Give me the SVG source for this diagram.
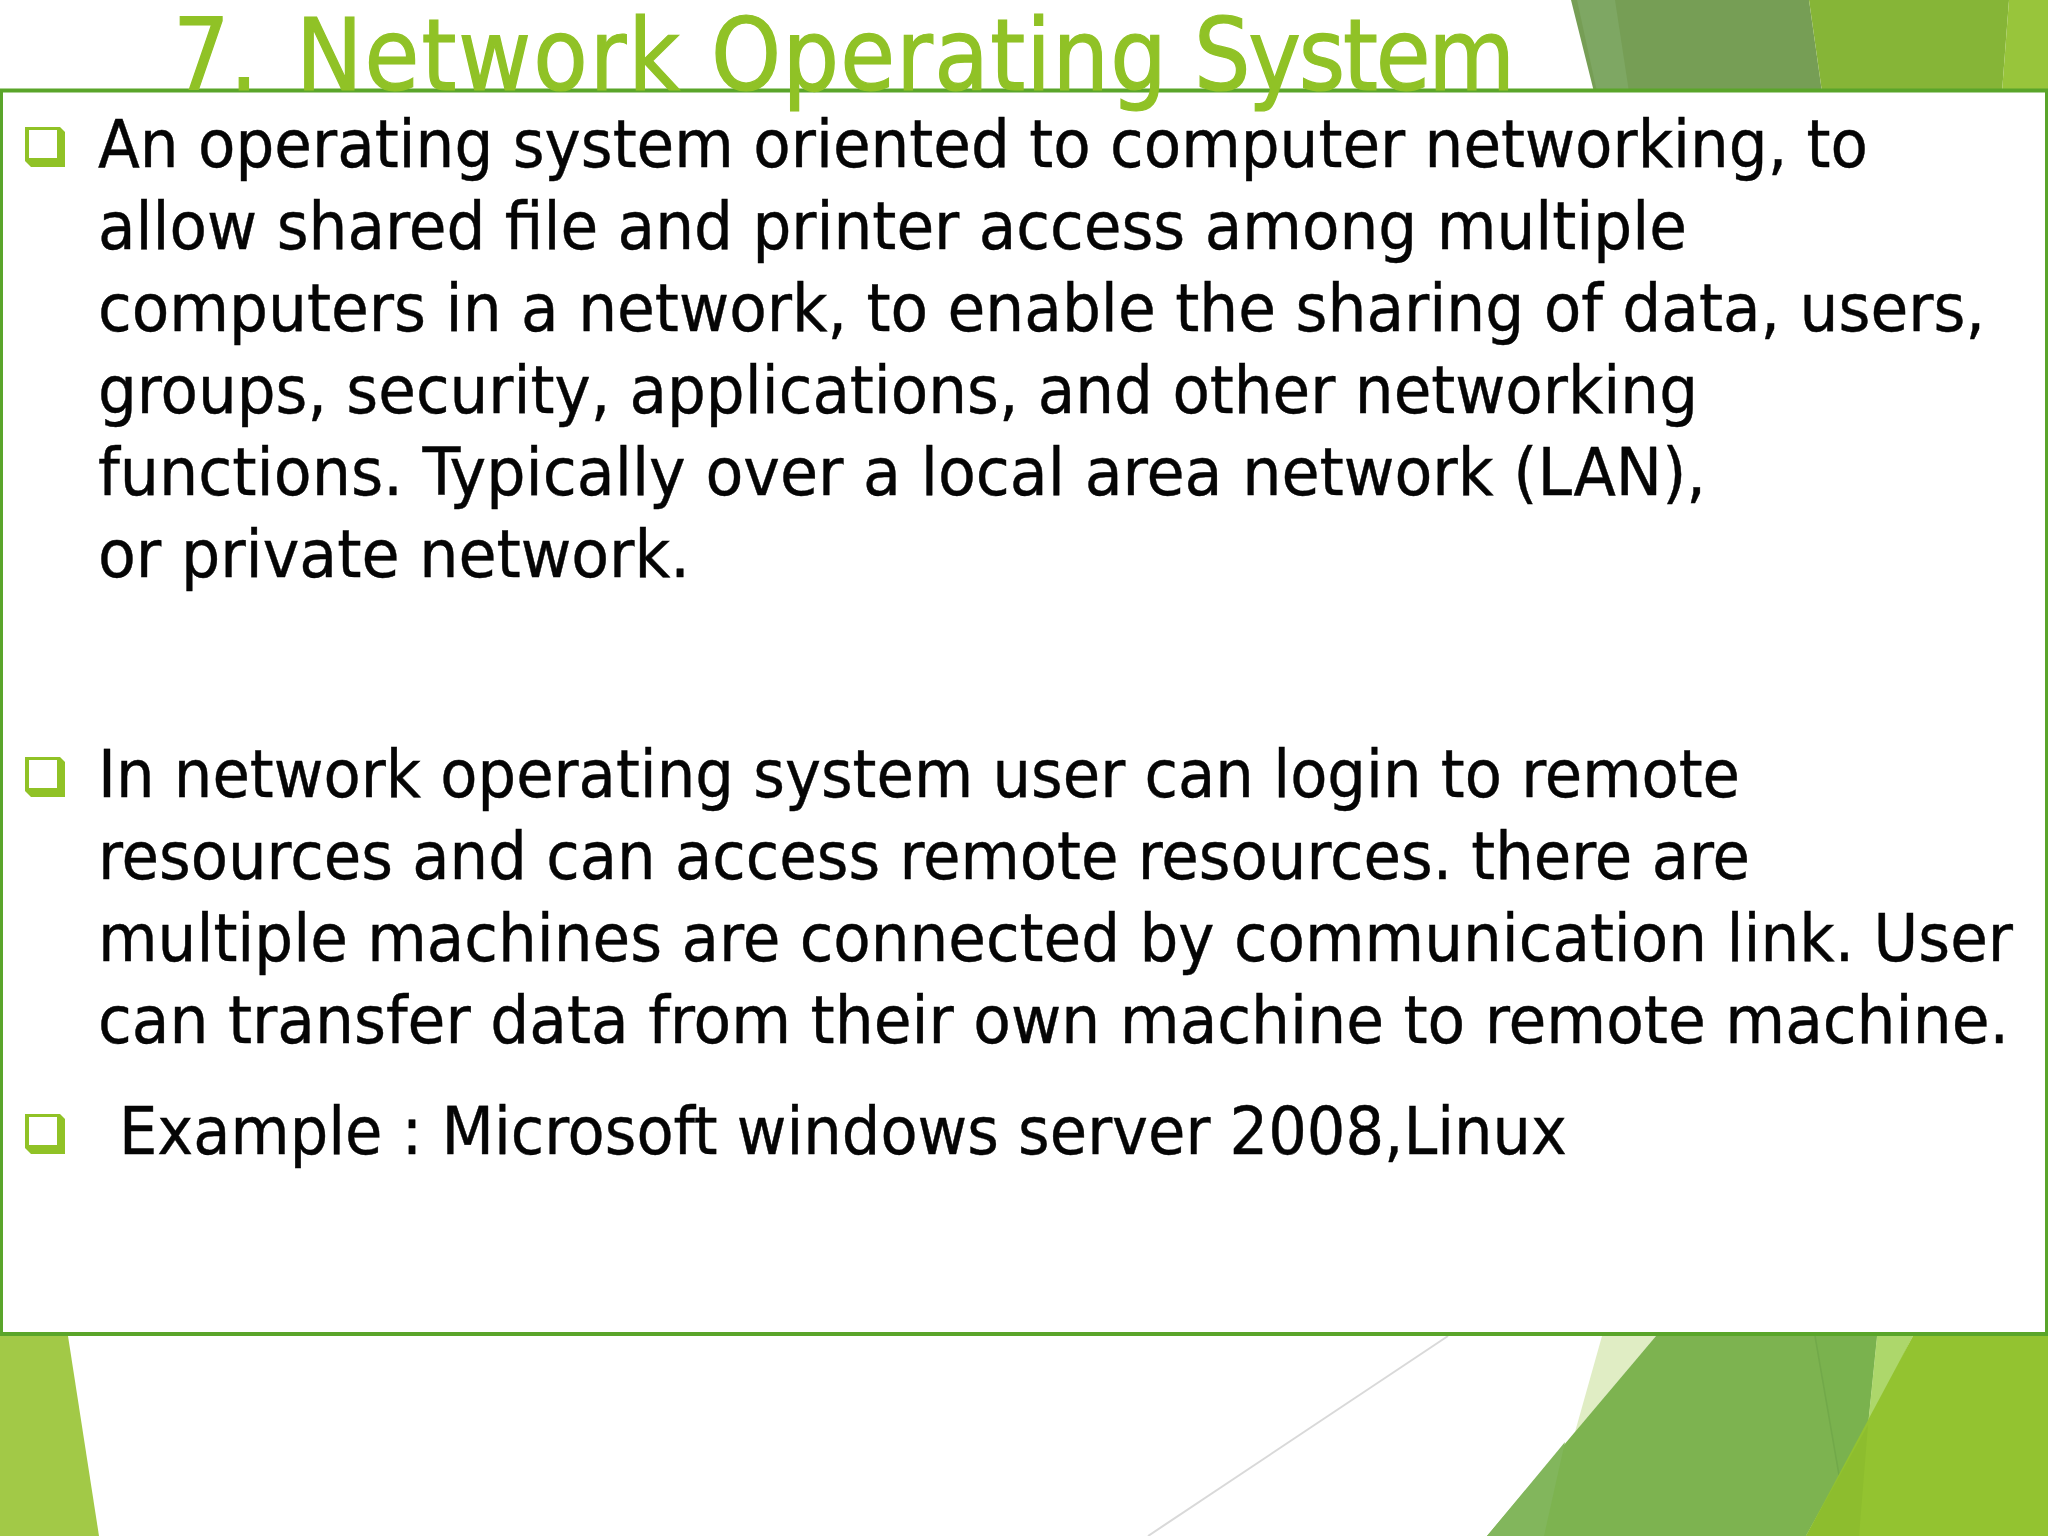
<svg xmlns="http://www.w3.org/2000/svg" width="2048" height="1536" viewBox="0 0 2048 1536">
<style>
.b{font-family:"DejaVu Sans Condensed","DejaVu Sans",sans-serif;font-size:66px;fill:#050505;stroke:#050505;stroke-width:.4}
.t{font-family:"DejaVu Sans Condensed","DejaVu Sans",sans-serif;font-size:99px;fill:#90c226;stroke:#90c226;stroke-width:1.2}
</style>
<defs>
<g id="bullet"><path d="M25 127H60L65 132V167H31L25 161Z" fill="#90c226"/><path d="M29 130H57V158H29Z" fill="#fff"/></g>
</defs>
<rect width="2048" height="1536" fill="#fff"/>
<g id="decor">
<polygon points="1571,0 1809,0 1822,92 1594,92" fill="#769e55"/>
<polygon points="1577,0 1615,0 1629,92 1597,92" fill="#7ea763"/>
<polygon points="1809,0 2009,0 2002,92 1822,92" fill="#86b537"/>
<polygon points="2009,0 2048,0 2048,92 2002,92" fill="#98c53b"/>
<polygon points="0,1336 68,1336 99,1536 0,1536" fill="#a2c947"/>
<line x1="1448" y1="1336" x2="1148" y2="1536" stroke="#d9d9d9" stroke-width="2"/>
<polygon points="1602,1336 1656,1336 1575,1432" fill="#e0edc4"/>
<polygon points="1656,1336 1877,1336 1868,1425 1806,1536 1487,1536" fill="#7db350"/>
<polygon points="1815,1336 1877,1336 1868,1425 1839,1475" fill="#7ab24e"/>
<polygon points="1565,1442 1544,1536 1487,1536" fill="#82b65c"/>
<line x1="1815" y1="1336" x2="1839" y2="1475" stroke="#72a94a" stroke-width="1.5"/>
<polygon points="1877,1336 1913,1336 1868,1425" fill="#add76b"/>
<polygon points="1913,1336 2048,1336 2048,1536 1806,1536" fill="#93c330"/>
<polygon points="1868,1425 1859,1536 1806,1536" fill="#8dbd2e"/>
</g>
<rect id="panel" x="1" y="90.5" width="2046" height="1243.5" fill="#fff" stroke="#5aa52a" stroke-width="4"/>
<g id="title"><text class="t" y="90"><tspan x="173">7. </tspan><tspan x="296" letter-spacing="2">Network </tspan><tspan x="711" letter-spacing="1.3">Operating </tspan><tspan x="1194" letter-spacing="-2.2">System</tspan></text></g>
<g id="body">
<use href="#bullet"/>
<text class="b" x="98" y="167" textLength="1770" lengthAdjust="spacingAndGlyphs">An operating system oriented to computer networking, to</text>
<text class="b" x="98" y="248.5" textLength="1589" lengthAdjust="spacingAndGlyphs">allow shared file and printer access among multiple</text>
<text class="b" x="98" y="330.5" textLength="1887" lengthAdjust="spacingAndGlyphs">computers in a network, to enable the sharing of data, users,</text>
<text class="b" x="98" y="412.5" textLength="1600" lengthAdjust="spacingAndGlyphs">groups, security, applications, and other networking</text>
<text class="b" x="98" y="494.5" textLength="1608" lengthAdjust="spacingAndGlyphs">functions. Typically over a local area network (LAN),</text>
<text class="b" x="98" y="576.5" textLength="592" lengthAdjust="spacingAndGlyphs">or private network.</text>
<use href="#bullet" y="630"/>
<text class="b" x="98" y="797" textLength="1642" lengthAdjust="spacingAndGlyphs">In network operating system user can login to remote</text>
<text class="b" x="98" y="879" textLength="1652" lengthAdjust="spacingAndGlyphs">resources and can access remote resources. there are</text>
<text class="b" x="98" y="961" textLength="1915" lengthAdjust="spacingAndGlyphs">multiple machines are connected by communication link. User</text>
<text class="b" x="98" y="1043" textLength="1911" lengthAdjust="spacingAndGlyphs">can transfer data from their own machine to remote machine.</text>
<use href="#bullet" y="987"/>
<text class="b" x="119" y="1153.5" textLength="1448" lengthAdjust="spacingAndGlyphs">Example : Microsoft windows server 2008,Linux</text>
</g>
</svg>
